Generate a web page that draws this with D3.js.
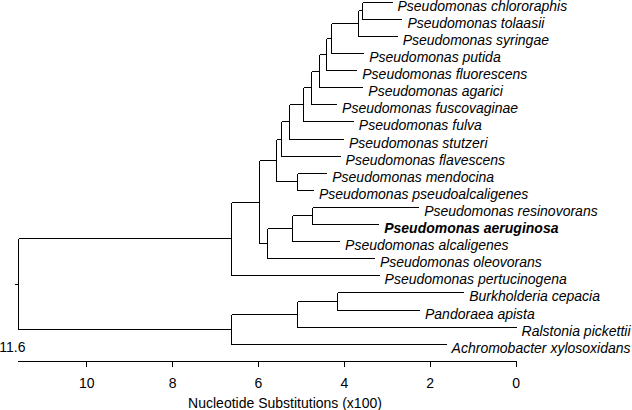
<!DOCTYPE html>
<html>
<head>
<meta charset="utf-8">
<script src="https://cdn.jsdelivr.net/npm/d3@7"></script>
<style>
  html, body { margin: 0; padding: 0; background: #fff; }
  svg { display: block; }
</style>
</head>
<body>
<svg id="chart" width="632" height="410"></svg>
<script>
// ---- Data ----
const leafNames = [
  "Pseudomonas chlororaphis", "Pseudomonas tolaasii", "Pseudomonas syringae",
  "Pseudomonas putida", "Pseudomonas fluorescens", "Pseudomonas agarici",
  "Pseudomonas fuscovaginae", "Pseudomonas fulva", "Pseudomonas stutzeri",
  "Pseudomonas flavescens", "Pseudomonas mendocina", "Pseudomonas pseudoalcaligenes",
  "Pseudomonas resinovorans", "Pseudomonas aeruginosa", "Pseudomonas alcaligenes",
  "Pseudomonas oleovorans", "Pseudomonas pertucinogena", "Burkholderia cepacia",
  "Pandoraea apista", "Ralstonia pickettii", "Achromobacter xylosoxidans"
];
// axis value (substitutions x100) where each leaf branch ends
const leafValues = [
  2.89, 2.66, 2.77,
  3.55, 3.71, 3.57,
  4.18, 3.79, 4.02,
  4.10, 4.41, 4.72,
  2.27, 3.20, 4.11,
  3.30, 3.19, 1.22,
  2.25, 0.00, 1.63
];
const boldLeaves = ["Pseudomonas aeruginosa"];

const mergeIds = ["n1","n2","n3","n4","n5","n6","n7","n8","n9","n10",
                  "n11","n12","n13","n14","n15","n16","n17","n18","n19","root"];
const mergeChildren = [
  ["Pseudomonas chlororaphis", "Pseudomonas tolaasii"],
  ["n1", "Pseudomonas syringae"],
  ["n2", "Pseudomonas putida"],
  ["n3", "Pseudomonas fluorescens"],
  ["n4", "Pseudomonas agarici"],
  ["n5", "Pseudomonas fuscovaginae"],
  ["n6", "Pseudomonas fulva"],
  ["n7", "Pseudomonas stutzeri"],
  ["n8", "Pseudomonas flavescens"],
  ["Pseudomonas mendocina", "Pseudomonas pseudoalcaligenes"],
  ["n9", "n10"],
  ["Pseudomonas resinovorans", "Pseudomonas aeruginosa"],
  ["n12", "Pseudomonas alcaligenes"],
  ["n13", "Pseudomonas oleovorans"],
  ["n11", "n14"],
  ["n15", "Pseudomonas pertucinogena"],
  ["Burkholderia cepacia", "Pandoraea apista"],
  ["n17", "Ralstonia pickettii"],
  ["n18", "Achromobacter xylosoxidans"],
  ["n16", "n19"]
];
const mergeValues = [3.58, 3.67, 4.31, 4.42, 4.57, 4.76, 4.94, 5.27, 5.46, 5.09,
                     5.58, 4.74, 5.21, 5.79, 5.97, 6.63, 4.15, 5.09, 6.63, 11.6];

const tickValues = [10, 8, 6, 4, 2, 0];
const axisMaxLabel = "11.6";
const axisTitle = "Nucleotide Substitutions (x100)";

// ---- Scales ----
const svg = d3.select("#chart");
const x = d3.scaleLinear().domain([11.6, 0]).range([17.5, 515.6]);
const yLeaf = d3.scaleLinear().domain([0, leafNames.length - 1]).range([1.7, 343.7]);

// node positions
const pos = new Map();
leafNames.forEach((n, i) => pos.set(n, { v: leafValues[i], y: yLeaf(i) }));
mergeIds.forEach((id, i) => {
  const [a, b] = mergeChildren[i];
  pos.set(id, { v: mergeValues[i], y: (pos.get(a).y + pos.get(b).y) / 2 });
});

const g = svg.append("g")
  .attr("stroke", "#000")
  .attr("stroke-width", 1)
  .attr("shape-rendering", "crispEdges")
  .attr("fill", "none");

const snap = v => Math.round(v) + 0.5;

mergeIds.forEach((id, i) => {
  const p = pos.get(id);
  const [a, b] = mergeChildren[i];
  const pa = pos.get(a), pb = pos.get(b);
  const xn = snap(x(p.v));
  g.append("line").attr("x1", xn).attr("x2", xn)
    .attr("y1", snap(pa.y)).attr("y2", snap(pb.y));
  [pa, pb].forEach(c => {
    g.append("line").attr("x1", xn).attr("x2", snap(x(c.v)))
      .attr("y1", snap(c.y)).attr("y2", snap(c.y));
  });
});

// root stub
const rootP = pos.get("root");
g.append("line")
  .attr("x1", snap(x(rootP.v)) - 4).attr("x2", snap(x(rootP.v)))
  .attr("y1", snap(rootP.y)).attr("y2", snap(rootP.y));

// leaf labels
svg.append("g")
  .selectAll("text")
  .data(leafNames)
  .join("text")
  .attr("x", (d, i) => x(leafValues[i]) + 6)
  .attr("y", (d, i) => yLeaf(i) + 9)
  .attr("font-family", "Liberation Sans, Arial, sans-serif")
  .attr("font-size", 14)
  .attr("font-style", "italic")
  .attr("font-weight", d => boldLeaves.includes(d) ? "bold" : "normal")
  .attr("fill", "#000")
  .text(d => d);

// axis
const axisG = svg.append("g")
  .attr("transform", "translate(0,360.5)")
  .call(d3.axisBottom(x).tickValues(tickValues).tickSize(6).tickSizeOuter(0).tickPadding(12)
        .tickFormat(d3.format("d")));
axisG.select(".domain").attr("stroke", "#000").attr("shape-rendering", "crispEdges");
axisG.selectAll(".tick line").attr("stroke", "#000").attr("shape-rendering", "crispEdges");
axisG.selectAll(".tick text")
  .attr("font-family", "Liberation Sans, Arial, sans-serif")
  .attr("font-size", 14)
  .attr("fill", "#000");

svg.append("text")
  .attr("x", 25.5).attr("y", 351.5)
  .attr("text-anchor", "end")
  .attr("font-family", "Liberation Sans, Arial, sans-serif")
  .attr("font-size", 14)
  .attr("fill", "#000")
  .text(axisMaxLabel);

svg.append("text")
  .attr("x", 285).attr("y", 408)
  .attr("text-anchor", "middle")
  .attr("font-family", "Liberation Sans, Arial, sans-serif")
  .attr("font-size", 14)
  .attr("fill", "#000")
  .text(axisTitle);
</script>
</body>
</html>
